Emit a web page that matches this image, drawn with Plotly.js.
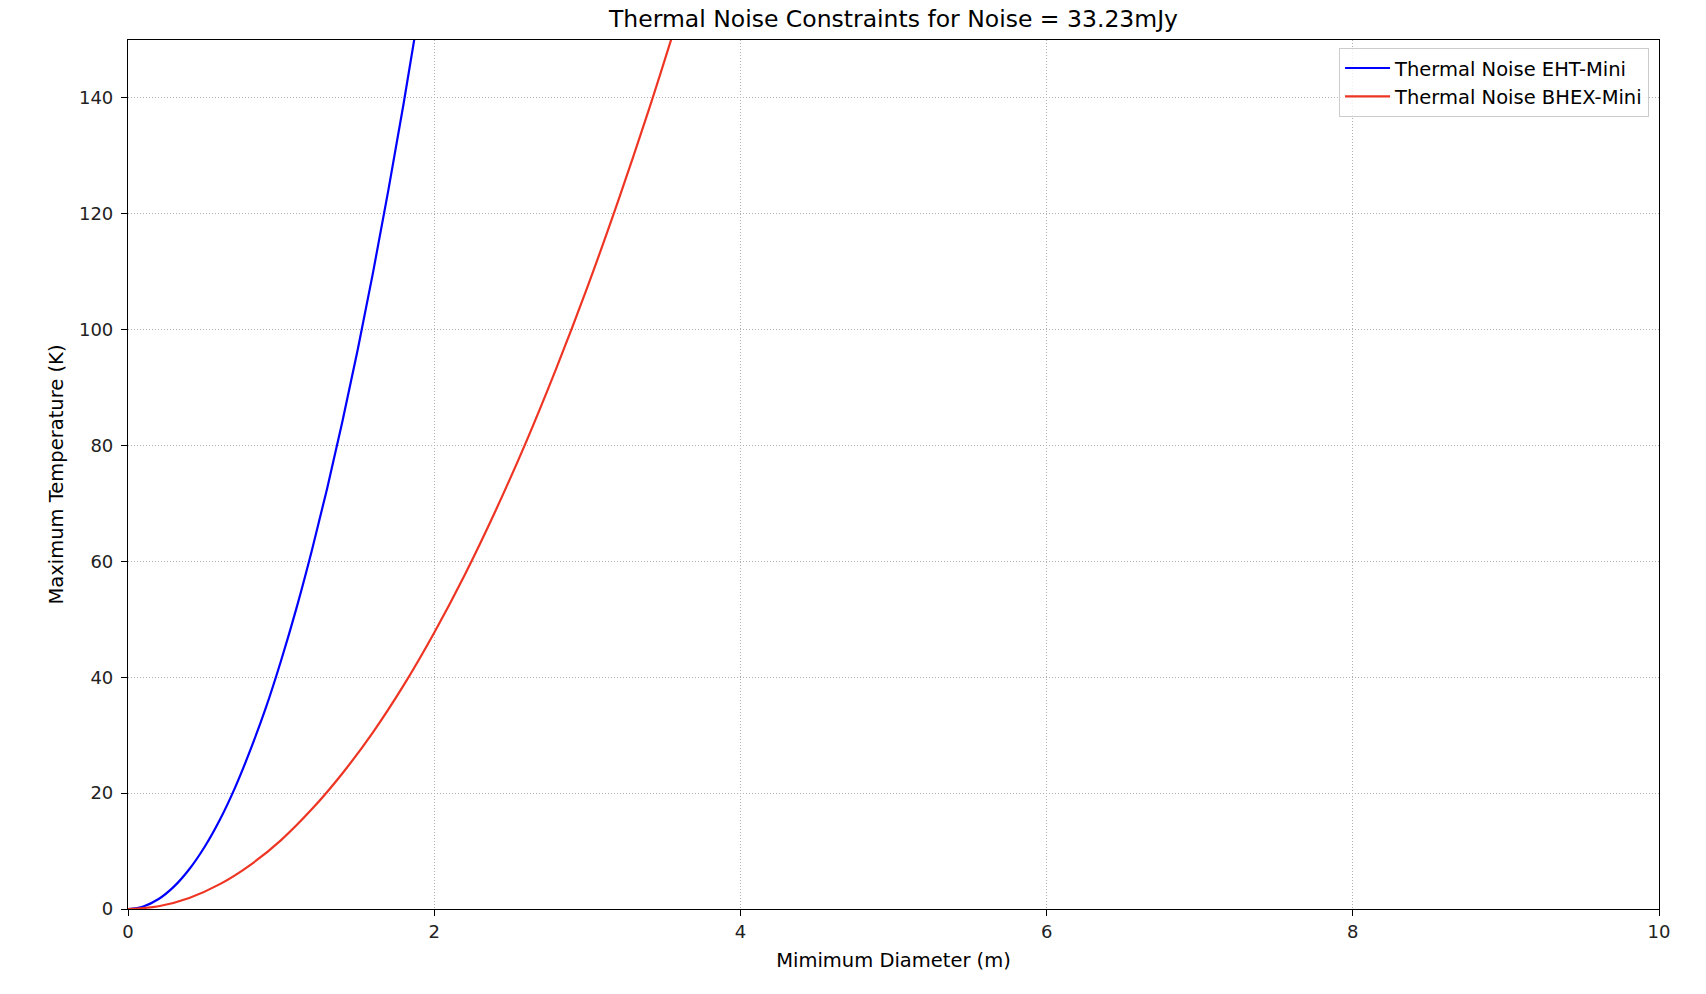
<!DOCTYPE html>
<html>
<head>
<meta charset="utf-8">
<script src="https://cdn.plot.ly/plotly-3.0.1.min.js"></script>
<style>html,body{margin:0;padding:0;background:#fff;}#chart{width:1706px;height:994px;}</style>
</head>
<body>
<div id="chart"></div>
<script>
// Diameter (m) and maximum temperature (K)
const diamEHT = [0, 0.1, 0.2, 0.3, 0.4, 0.5, 0.6, 0.7, 0.8, 0.9, 1.0, 1.1, 1.2, 1.3, 1.4, 1.5, 1.6, 1.7, 1.8, 1.9];
const tempEHT = [0, 0.43, 1.72, 3.86, 6.86, 10.7, 15.4, 21.0, 27.5, 34.7, 42.9, 51.9, 61.8, 72.5, 84.1, 96.5, 109.8, 124.0, 139.0, 154.9];
const diamBHEX = [0, 0.2, 0.4, 0.6, 0.8, 1.0, 1.2, 1.4, 1.6, 1.8, 2.0, 2.2, 2.4, 2.6, 2.8, 3.0, 3.2, 3.4, 3.6];
const tempBHEX = [0, 0.48, 1.91, 4.29, 7.63, 11.9, 17.2, 23.4, 30.5, 38.6, 47.7, 57.7, 68.7, 80.6, 93.5, 107.3, 122.1, 137.8, 154.5];
const seriesNames = ["Thermal Noise EHT-Mini", "Thermal Noise BHEX-Mini"];
const xTicks = [0, 2, 4, 6, 8, 10];
const yTicks = [0, 20, 40, 60, 80, 100, 120, 140];

const font = "DejaVu Sans, sans-serif";
const traces = [
  {x: diamEHT, y: tempEHT, mode: "lines", name: seriesNames[0], line: {color: "#0000ff", width: 2.2, shape: "spline"}},
  {x: diamBHEX, y: tempBHEX, mode: "lines", name: seriesNames[1], line: {color: "#ee3524", width: 2.2, shape: "spline"}}
];
const axisCommon = {
  showline: true, linecolor: "#000", linewidth: 1.2, mirror: true,
  ticks: "outside", ticklen: 6, tickwidth: 1.2, tickcolor: "#000",
  showgrid: true, gridcolor: "#b0b0b0", griddash: "1px,2px", gridwidth: 1,
  zeroline: false, tickfont: {family: font, size: 18, color: "#222"}
};
const layout = {
  width: 1706, height: 994,
  paper_bgcolor: "#fff", plot_bgcolor: "#fff",
  margin: {l: 128, r: 47, t: 40, b: 85},
  title: {text: "Thermal Noise Constraints for Noise = 33.23mJy", font: {family: font, size: 23.5, color: "#000"},
          xref: "paper", x: 0.5, xanchor: "center", yref: "container", y: 1 - 19/994, yanchor: "middle"},
  xaxis: Object.assign({}, axisCommon, {range: [0, 10], tickvals: xTicks,
    title: {text: "Mimimum Diameter (m)", font: {family: font, size: 19.5, color: "#000"}, standoff: 12}}),
  yaxis: Object.assign({}, axisCommon, {range: [0, 150], tickvals: yTicks, ticklabelstandoff: 4,
    title: {text: "Maximum Temperature (K)", font: {family: font, size: 19.5, color: "#000"}, standoff: 10}}),
  legend: {x: 0.9935, xanchor: "right", y: 0.991, yanchor: "top", bgcolor: "rgba(255,255,255,0.8)",
           bordercolor: "#cccccc", borderwidth: 1, itemwidth: 45, tracegroupgap: 2,
           font: {family: font, size: 19.5, color: "#000"}},
  showlegend: true
};
Plotly.newPlot("chart", traces, layout, {displayModeBar: false});
</script>
</body>
</html>
